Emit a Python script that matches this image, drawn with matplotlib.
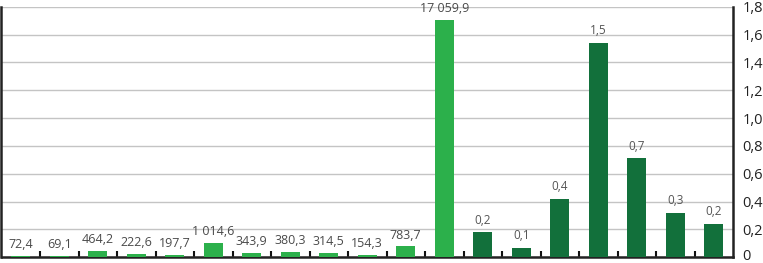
import matplotlib
matplotlib.use("Agg")
import matplotlib.pyplot as plt
import matplotlib.transforms as mtransforms
import numpy as np

# first group: absolute values, drawn at 1/10000 on the shared scale
light_values = [72.4, 69.1, 464.2, 222.6, 197.7, 1014.6, 343.9, 380.3,
                314.5, 154.3, 783.7, 17059.9]
light_scale = 10000.0
# second group: values read on the right-hand scale
dark_values = [0.18, 0.07, 0.42, 1.54, 0.71, 0.32, 0.24]
y_ticks = [0, 0.2, 0.4, 0.6, 0.8, 1.0, 1.2, 1.4, 1.6, 1.8]

LIGHT = "#2cb04b"
DARK = "#12703b"
TEXT = "#4a4a4a"

plt.rcParams["font.family"] = ["Open Sans", "DejaVu Sans"]


def fmt(v):
    s = f"{v:,.1f}".replace(",", " ").replace(".", ",")
    return s


fig = plt.figure(figsize=(7.63, 2.63), dpi=100)
ax = fig.add_axes([1.5 / 763, 5.7 / 263, 731.5 / 763, 250.6 / 263])

n_light = len(light_values)
x_light = np.arange(n_light)
x_dark = np.arange(n_light, n_light + len(dark_values))
h_light = [v / light_scale for v in light_values]

ax.bar(x_light, h_light, width=0.49, color=LIGHT, zorder=3)
ax.bar(x_dark, dark_values, width=0.49, color=DARK, zorder=3)

for x, h, v in zip(x_light, h_light, light_values):
    ax.annotate(fmt(v), (x, h), xytext=(0, 3.5), textcoords="offset points",
                ha="center", va="bottom", fontsize=9, color=TEXT)
for x, v in zip(x_dark, dark_values):
    ax.annotate(fmt(v), (x, v), xytext=(0, 4), textcoords="offset points",
                ha="center", va="bottom", fontsize=8.5, color="#555555")

n = n_light + len(dark_values)
ax.set_xlim(-0.5, n - 0.5)
ax.set_ylim(0, 1.8)
ax.set_yticks(y_ticks)
ax.set_yticklabels([("0" if t == 0 else f"{t:.1f}".replace(".", ",")) for t in y_ticks],
                   fontsize=10.5, color="#222222")
ax.yaxis.tick_right()
ax.tick_params(axis="y", length=0, pad=7)
# lift the "0" label a little so it stays inside the image
zero = ax.get_yticklabels()[0]
zero.set_transform(zero.get_transform() +
                   mtransforms.ScaledTranslation(0, 2 / 72, fig.dpi_scale_trans))
ax.set_xticks(np.arange(0.5, n - 1, 1.0))
ax.set_xticklabels([])
ax.tick_params(axis="x", direction="in", length=4, width=1.5, color="#111111")
ax.grid(axis="y", color="#c4c4c4", linewidth=1.0, zorder=0)

ax.spines["top"].set_visible(False)
for side in ("left", "right", "bottom"):
    ax.spines[side].set_color("#222222")
    ax.spines[side].set_linewidth(1.8)

fig.savefig("out.png", dpi=100, facecolor="white")
